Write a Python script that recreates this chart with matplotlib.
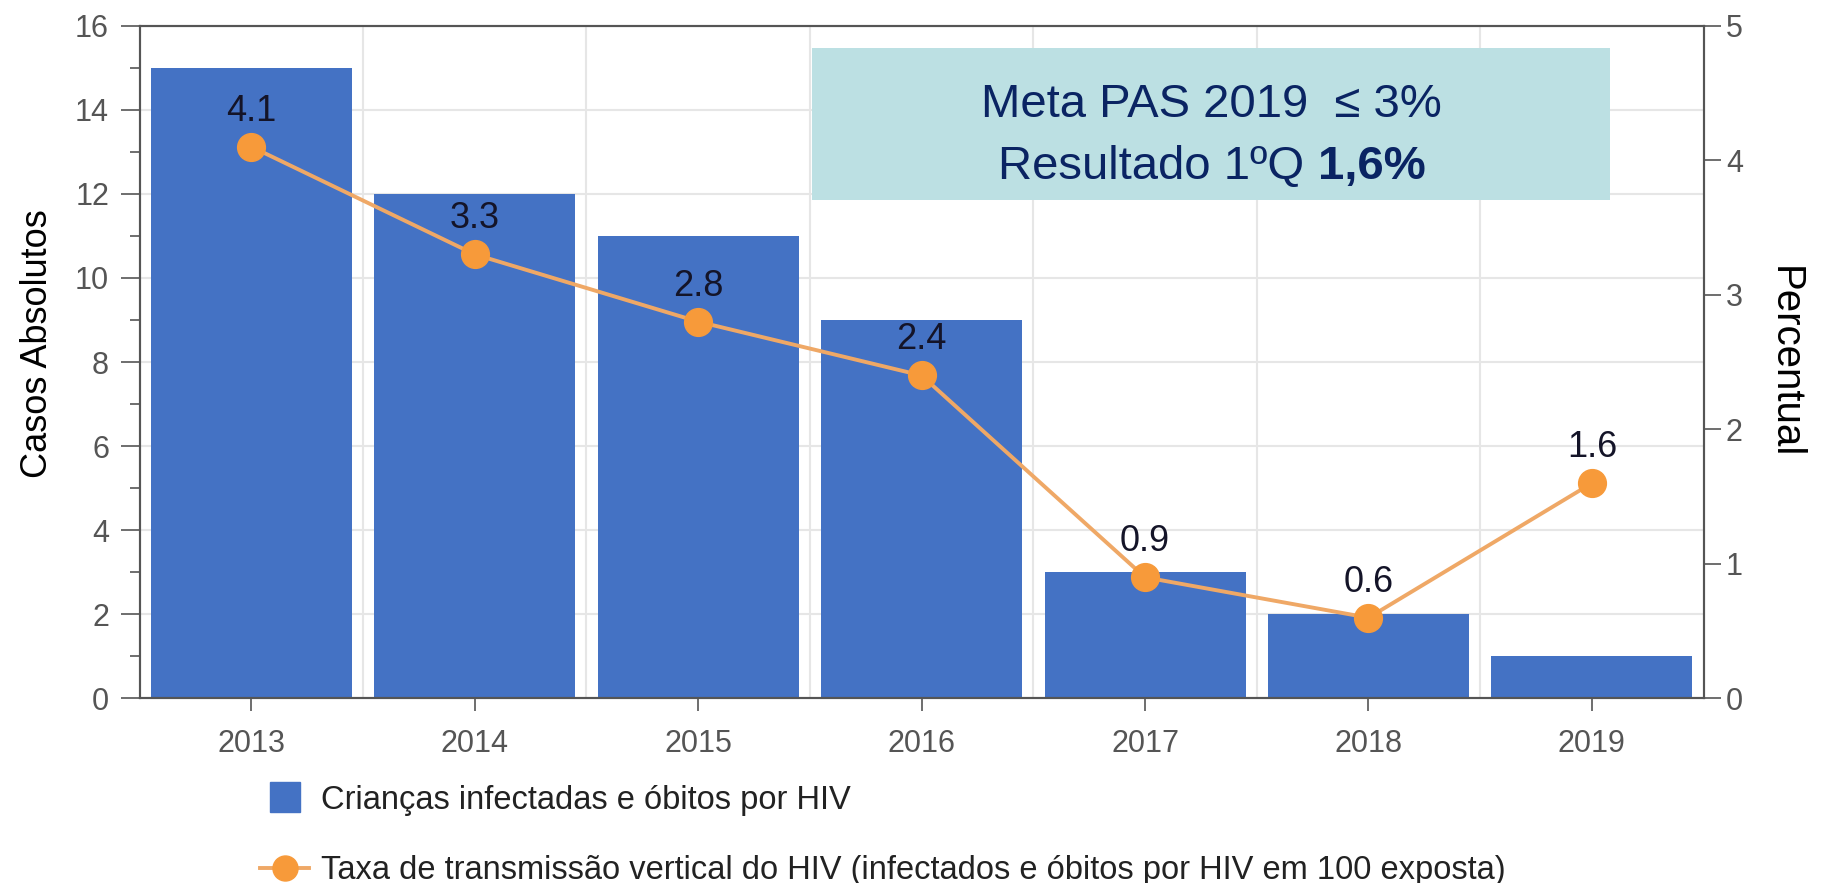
import matplotlib
matplotlib.use('Agg')
from matplotlib import pyplot as plt
from matplotlib import font_manager
from matplotlib.lines import Line2D
from matplotlib.patches import Rectangle

# dados do gráfico
anos = ['2013', '2014', '2015', '2016', '2017', '2018', '2019']
casos = [15, 12, 11, 9, 3, 2, 1]
taxa = [4.1, 3.3, 2.8, 2.4, 0.9, 0.6, 1.6]
rotulo_barras = 'Crianças infectadas e óbitos por HIV'
rotulo_linha = 'Taxa de transmissão vertical do HIV (infectados e óbitos por HIV em 100 exposta)'

nomes = set(f.name for f in font_manager.fontManager.ttflist)
fonte = 'Liberation Sans Narrow' if 'Liberation Sans Narrow' in nomes else 'Liberation Sans'
plt.rcParams['font.family'] = [fonte, 'DejaVu Sans']

azul = '#4472C4'
laranja = '#F79A3A'
cinza = '#555555'

fig = plt.figure(figsize=(18.25, 8.83), dpi=100)
ax = fig.add_axes([0.0765, 0.209, 0.857, 0.762])
ax2 = ax.twinx()

x = list(range(len(anos)))
ax.bar(x, casos, width=0.9, color=azul, zorder=2)
ax.set_xlim(-0.5, len(anos) - 0.5)
ax.set_ylim(0, 16)
ax.set_yticks(range(0, 17, 2))
ax.set_yticks(range(1, 16, 2), minor=True)
ax.set_xticks(x)
ax.set_xticklabels(anos)
ax.tick_params(axis='y', which='major', labelsize=22, labelcolor=cinza, color=cinza, length=14, width=1.2, pad=8)
ax.tick_params(axis='y', which='minor', color=cinza, length=7, width=1.2)
ax.tick_params(axis='x', labelsize=22, labelcolor=cinza, color=cinza, length=9, width=1.2, pad=13)
ax.set_ylabel('Casos Absolutos', fontsize=26, labelpad=14)
ax.yaxis.label.set_y(0.528)

# grade
for v in range(2, 17, 2):
    ax.axhline(v, color='#e6e6e6', lw=1.5, zorder=0)
for b in range(len(anos) - 1):
    ax.axvline(b + 0.5, color='#e6e6e6', lw=1.5, zorder=0)

for lado in ['left', 'right', 'top', 'bottom']:
    ax.spines[lado].set_color(cinza)
    ax.spines[lado].set_linewidth(1.5)
    ax2.spines[lado].set_color(cinza)
    ax2.spines[lado].set_linewidth(1.5)

ax2.plot(x, taxa, color='#EFA866', lw=2.8, marker='o', markersize=20,
         markerfacecolor=laranja, markeredgecolor=laranja, zorder=3)
ax2.set_ylim(0, 5)
ax2.set_yticks(range(0, 6))
ax2.tick_params(axis='y', labelsize=22, labelcolor=cinza, color=cinza, length=12, width=1.2, pad=4)
ax2.set_ylabel('Percentual', fontsize=29, rotation=270, labelpad=44)

for xi, t in zip(x, taxa):
    ax2.annotate(f'{t:.1f}', (xi, t), xytext=(0, 13), textcoords='offset points',
                 ha='center', va='bottom', fontsize=26, color='#141428')

# caixa da meta
fig.patches.append(Rectangle((0.445, 0.774), 0.437, 0.172, transform=fig.transFigure,
                             facecolor='#BCE0E3', edgecolor='none', zorder=5))
fig.text(0.664, 0.881, 'Meta PAS 2019  ≤ 3%', ha='center', va='center',
         fontsize=34, color='#0A2463', zorder=6)
t1 = fig.text(0.664, 0.811, 'Resultado 1ºQ ', ha='left', va='center',
              fontsize=34, color='#0A2463', zorder=6)
t2 = fig.text(0.664, 0.811, '1,6%', ha='left', va='center',
              fontsize=34, color='#0A2463', fontweight='bold', zorder=6)
r = fig.canvas.get_renderer()
w1 = t1.get_window_extent(r).width / fig.bbox.width
w2 = t2.get_window_extent(r).width / fig.bbox.width
t1.set_x(0.664 - (w1 + w2) / 2)
t2.set_x(0.664 - (w1 + w2) / 2 + w1)

# legenda
h1 = Line2D([], [], color=azul, marker='s', linestyle='none', markersize=22)
h2 = Line2D([], [], color='#EFA866', lw=2.8, marker='o', markersize=18,
            markerfacecolor=laranja, markeredgecolor=laranja)
fig.legend([h1, h2], [rotulo_barras, rotulo_linha], loc='upper left',
           bbox_to_anchor=(0.1265, 0.1445), frameon=False, fontsize=23.5,
           labelspacing=1.2, handlelength=1.5, handletextpad=0.35,
           labelcolor='#222222')

fig.savefig('out.png', dpi=100)
